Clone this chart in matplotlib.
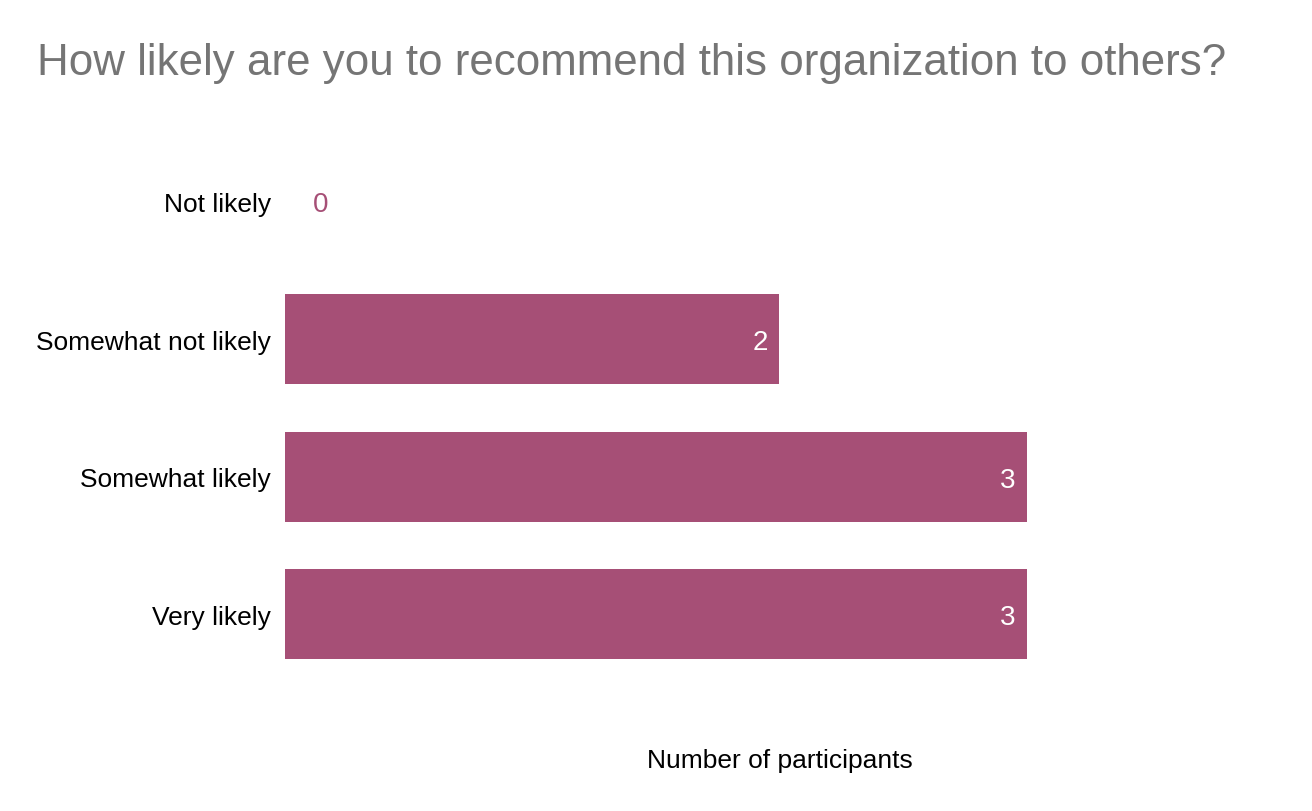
"""Horizontal bar chart: likelihood to recommend the organization."""

import matplotlib

matplotlib.use("Agg")

import matplotlib.pyplot as plt

categories = ["Not likely", "Somewhat not likely", "Somewhat likely", "Very likely"]
counts = [0, 2, 3, 3]

title = "How likely are you to recommend this organization to others?"
x_label = "Number of participants"

BAR_COLOR = "#A64F76"
TITLE_COLOR = "#757575"


def main() -> None:
    plt.rcParams["font.family"] = ["Liberation Sans", "DejaVu Sans"]

    fig = plt.figure(figsize=(13.12, 8.12), dpi=100)
    ax = fig.add_axes([0.2172, 0.1576, 0.7538, 0.6774])

    positions = list(range(len(categories)))
    ax.barh(positions, counts, height=0.655, color=BAR_COLOR, edgecolor="none")

    for pos, value in zip(positions, counts):
        if value > 0:
            ax.annotate(str(value), (value, pos), xytext=(-8, -2),
                        textcoords="offset points", ha="right", va="center",
                        color="white", fontsize=20)
        else:
            ax.annotate(str(value), (value, pos), xytext=(20, -1.5),
                        textcoords="offset points", ha="left", va="center",
                        color=BAR_COLOR, fontsize=20)

    ax.set_xlim(0, 4)
    ax.set_ylim(len(categories) - 0.5, -0.5)
    ax.set_yticks(positions)
    ax.set_yticklabels(categories, fontsize=19)
    ax.tick_params(axis="y", length=0, pad=10)
    ax.set_xticks([])
    for spine in ax.spines.values():
        spine.set_visible(False)

    ax.set_xlabel(x_label, fontsize=19, labelpad=47)
    fig.text(37 / 1312, 1 - 64 / 812, title, fontsize=31.6, color=TITLE_COLOR,
             ha="left", va="center")

    fig.savefig("out.png", dpi=100)
    plt.close(fig)


if __name__ == "__main__":
    main()
